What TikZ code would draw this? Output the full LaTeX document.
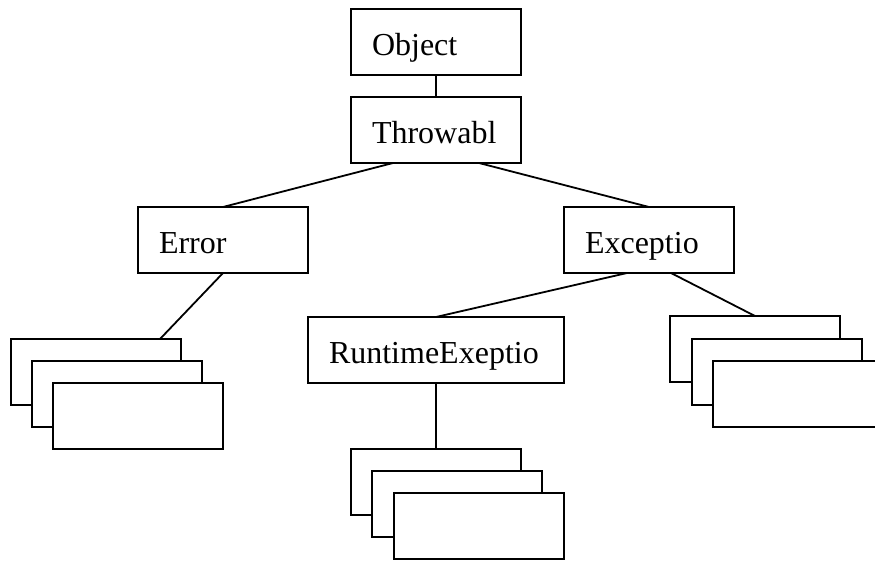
\documentclass[tikz,border=0pt]{standalone}
\usepackage{fontspec}
\setmainfont{Liberation Serif}
\tikzset{
  box/.style={draw, fill=white, line width=1.8pt, anchor=north west,
    outer sep=0pt, inner xsep=21pt, inner ysep=0pt, minimum height=66pt,
    text width=128pt, align=left, text height=26pt, text depth=0pt,
    font=\fontsize{32}{38}\selectfont},
  widebox/.style={box, text width=214pt},
  blank/.style={draw, fill=white, line width=1.8pt, anchor=north west,
    outer sep=0pt, minimum width=170pt, minimum height=66pt, inner sep=0pt},
  link/.style={line width=1.8pt}
}
\begin{document}
\begin{tikzpicture}[x=1pt, y=-1pt]
  \path[use as bounding box] (0,0) rectangle (875,560);
  \begin{scope}
  \clip (0,0) rectangle (875,560);

  % class hierarchy boxes
  \node[box] (obj) at (351,9)   {Object};
  \node[box] (thr) at (351,97)  {Throwabl};
  \node[box] (err) at (138,207) {Error};
  \node[box] (exc) at (564,207) {Exceptio};
  \node[widebox] (rte) at (308,317) {RuntimeExeptio};

  % stacked subclass boxes under Error
  \node[blank] (l1) at (11,339) {};
  \node[blank] (l2) at (32,361) {};
  \node[blank] (l3) at (53,383) {};

  % stacked subclass boxes under RuntimeExeptio
  \node[blank] (m1) at (351,449) {};
  \node[blank] (m2) at (372,471) {};
  \node[blank] (m3) at (394,493) {};

  % stacked subclass boxes under Exceptio
  \node[blank] (r1) at (670,316) {};
  \node[blank] (r2) at (692,339) {};
  \node[blank] (r3) at (713,361) {};

  % connectors
  \draw[link] (obj.south) -- (thr.north);
  \draw[link] ([xshift=-43pt]thr.south) -- (err.north);
  \draw[link] ([xshift=43pt]thr.south) -- (exc.north);
  \draw[link] (err.south) -- ([xshift=-21pt]l1.north east);
  \draw[link] ([xshift=-22pt]exc.south) -- (rte.north);
  \draw[link] ([xshift=22pt]exc.south) -- (r1.north);
  \draw[link] (rte.south) -- (m1.north);
  \end{scope}
\end{tikzpicture}
\end{document}
